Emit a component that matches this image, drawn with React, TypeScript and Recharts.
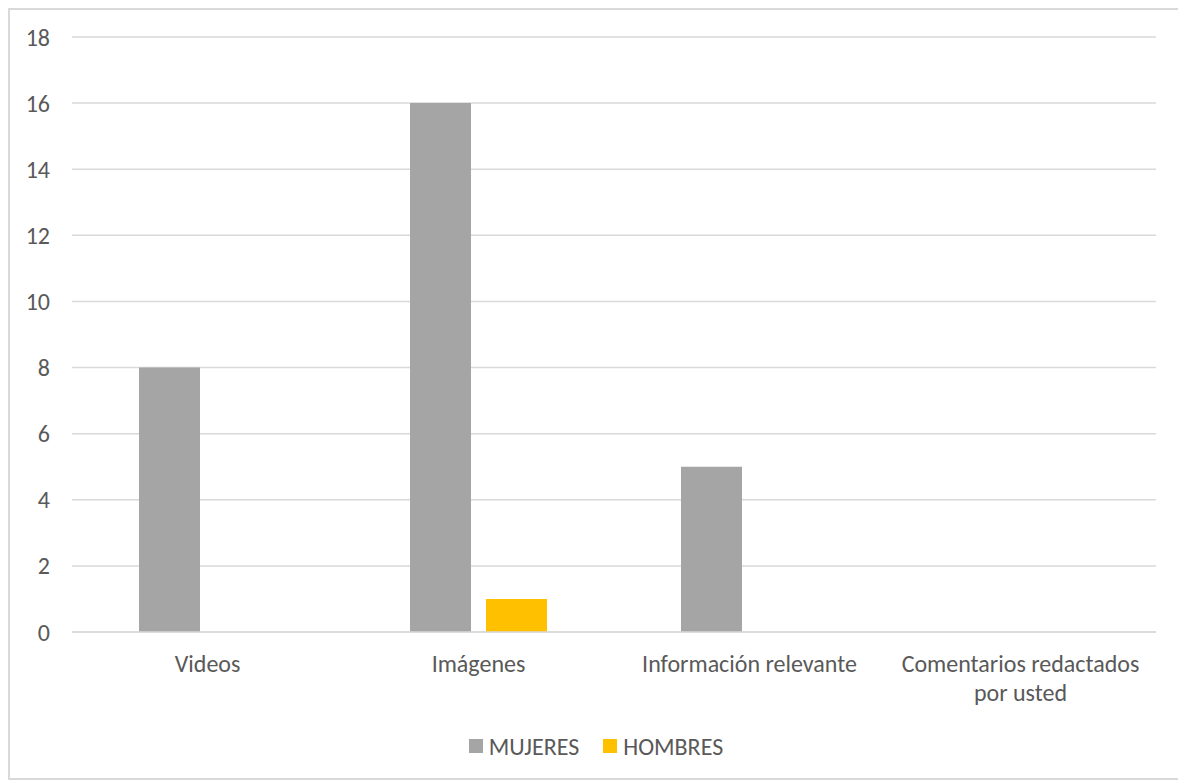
import React from 'react';
import { BarChart, Bar, XAxis, YAxis, CartesianGrid, Legend } from 'recharts';

const categories = ['Videos', 'Imágenes', 'Información relevante', 'Comentarios redactados por usted'];
const mujeres = [8, 16, 5, 0];
const hombres = [0, 1, 0, 0];
const yTicks = [0, 2, 4, 6, 8, 10, 12, 14, 16, 18];

const data = categories.map((name, i) => ({ name, MUJERES: mujeres[i], HOMBRES: hombres[i] }));

const FONT = "Carlito, Calibri, 'Noto Sans', sans-serif";
const TEXT = '#595959';

const CategoryTick = (props: any) => {
  const { x, y, payload } = props;
  const words = String(payload.value).split(' ');
  const lines: string[] = [];
  let cur = '';
  words.forEach((w) => {
    const next = cur ? cur + ' ' + w : w;
    if (next.length > 24 && cur) {
      lines.push(cur);
      cur = w;
    } else {
      cur = next;
    }
  });
  if (cur) lines.push(cur);
  return (
    <text x={x} y={y + 32} textAnchor="middle" fill={TEXT} fontSize={24} fontFamily={FONT}>
      {lines.map((l, i) => (
        <tspan key={i} x={x} dy={i === 0 ? 0 : 29}>
          {l}
        </tspan>
      ))}
    </text>
  );
};

const LegendContent = () => (
  <div
    style={{
      display: 'flex',
      justifyContent: 'center',
      alignItems: 'center',
      height: 30,
      fontFamily: FONT,
      fontSize: 24,
      color: TEXT,
    }}
  >
    <span style={{ display: 'flex', alignItems: 'center', marginRight: 24 }}>
      <span style={{ width: 14, height: 14, background: '#A5A5A5', marginRight: 6, display: 'inline-block' }} />
      MUJERES
    </span>
    <span style={{ display: 'flex', alignItems: 'center' }}>
      <span style={{ width: 14, height: 14, background: '#FFC000', marginRight: 6, display: 'inline-block' }} />
      HOMBRES
    </span>
  </div>
);

export default function App() {
  return (
    <div style={{ width: 1172, height: 768, border: '2px solid #d9d9d9', background: '#fff' }}>
      <BarChart
        width={1172}
        height={768}
        data={data}
        margin={{ top: 27, right: 26, left: 0, bottom: 16 }}
        barSize={61}
        barGap={15}
      >
        <CartesianGrid vertical={false} stroke="#d9d9d9" strokeWidth={1.5} />
        <XAxis
          dataKey="name"
          tick={<CategoryTick />}
          tickLine={false}
          axisLine={{ stroke: '#d9d9d9', strokeWidth: 1.5 }}
          height={100}
          interval={0}
        />
        <YAxis
          domain={[0, 18]}
          ticks={yTicks}
          width={62}
          axisLine={false}
          tickLine={false}
          tickSize={0}
          tickMargin={22}
          tick={{ fill: TEXT, fontSize: 24, fontFamily: FONT }}
        />
        <Legend content={<LegendContent />} wrapperStyle={{ top: 721, left: 0, width: 1172, height: 30 }} />
        <Bar dataKey="MUJERES" fill="#A5A5A5" isAnimationActive={false} />
        <Bar dataKey="HOMBRES" fill="#FFC000" isAnimationActive={false} />
      </BarChart>
    </div>
  );
}
